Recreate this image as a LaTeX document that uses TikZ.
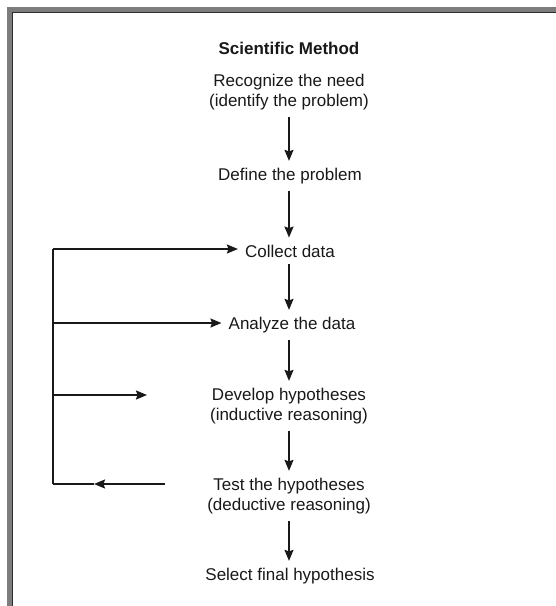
\documentclass[tikz,border=0pt]{standalone}
\usepackage{fontspec}
\setmainfont{Liberation Sans}
\usetikzlibrary{arrows.meta}
\definecolor{framegray}{RGB}{125,125,125}
\definecolor{framedark}{RGB}{45,45,45}
\definecolor{ink}{RGB}{25,25,25}
\begin{document}
\begin{tikzpicture}[x=1pt,y=-1pt,
  every node/.style={font=\fontsize{17}{20}\selectfont, text=ink, align=center, inner sep=7pt},
  flow/.style={draw=ink, line width=1.6pt, -{Stealth[length=11pt,width=9pt,inset=1.5pt]}},
  loopline/.style={draw=ink, line width=1.6pt},
  titlestyle/.style={font=\fontsize{17}{20}\selectfont\bfseries}]
\useasboundingbox (0,0) rectangle (556,606);
\fill[white] (0,0) rectangle (556,606);
% frame
\fill[framegray] (7,7) rectangle (556,12);
\fill[framegray] (7,7) rectangle (12,606);
\draw[framedark, line width=1pt] (12.5,606) -- (12.5,12.5) -- (556,12.5);
% nodes
\node[titlestyle] (title) at (289,48) {Scientific Method};
\node (rec) at (289,92) {Recognize the need\\(identify the problem)};
\node (def) at (290,176) {Define the problem};
\node (col) at (290,251) {Collect data};
\node (ana) at (292,325) {Analyze the data};
\node (dev) at (289,406) {Develop hypotheses\\(inductive reasoning)};
\node (test) at (289,496) {Test the hypotheses\\(deductive reasoning)};
\node (sel) at (290,576) {Select final hypothesis};
% main flow
\draw[flow] (rec.south -| 289,0) -- (def.north -| 289,0);
\draw[flow] (def.south -| 289,0) -- (col.north -| 289,0);
\draw[flow] (col.south -| 289,0) -- (ana.north -| 289,0);
\draw[flow] (ana.south -| 289,0) -- (dev.north -| 289,0);
\draw[flow] (dev.south -| 289,0) -- (test.north -| 289,0);
\draw[flow] (test.south -| 289,0) -- (sel.north -| 289,0);
% feedback loop
\coordinate (L1) at (53,249);
\coordinate (L2) at (53,323);
\coordinate (L3) at (53,395);
\coordinate (L4) at (53,484);
\coordinate (D) at (147,395);
\coordinate (T) at (165,484);
\coordinate (Tm) at (94,484);
\draw[loopline] (L1) -- (L4);
\draw[flow] (L1) -- (col.west |- L1);
\draw[flow] (L2) -- (ana.west |- L2);
\draw[flow] (L3) -- (D);
\draw[flow] (T) -- (Tm);
\draw[loopline] (Tm) -- (L4);
\end{tikzpicture}
\end{document}
